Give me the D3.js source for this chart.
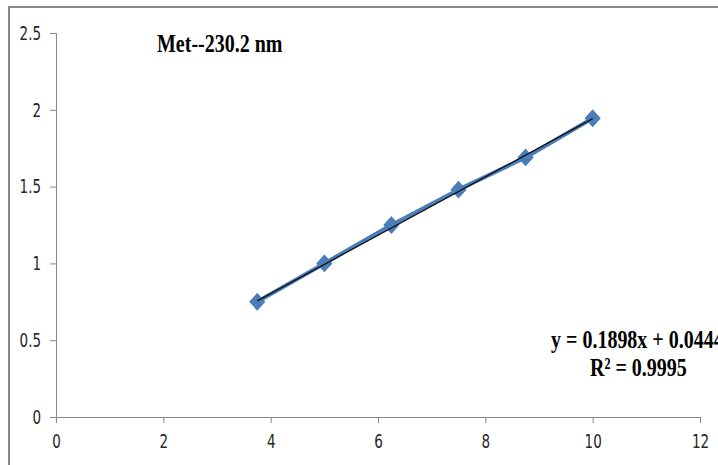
<!DOCTYPE html>
<html>
<head>
<meta charset="utf-8">
<script src="https://cdn.jsdelivr.net/npm/d3@7"></script>
<style>
  html, body { margin: 0; padding: 0; background: #fff; }
  svg { display: block; }
</style>
</head>
<body>
<svg id="chart" width="718" height="465"></svg>
<script>
// Data
const concentrations = [3.75, 5, 6.25, 7.5, 8.75, 10];
const absorbances = [0.75, 1.0, 1.25, 1.48, 1.69, 1.945];
const xTicks = [0, 2, 4, 6, 8, 10, 12];
const yTicks = [0, 0.5, 1, 1.5, 2, 2.5];
const titleText = "Met--230.2 nm";
const slope = 0.1898;
const intercept = 0.0444;
const equationText = "y = 0.1898x + 0.0444";
const r2Text = "R² = 0.9995";

const svg = d3.select("#chart");

// outer chart border (cropped on the right and bottom)
svg.append("rect")
  .attr("x", 9).attr("y", 7)
  .attr("width", 760).attr("height", 520)
  .attr("fill", "#fff")
  .attr("stroke", "#878787")
  .attr("stroke-width", 2);

const x = d3.scaleLinear().domain([0, 12]).range([56, 700]);
const y = d3.scaleLinear().domain([0, 2.5]).range([417, 33]);

const tickFont = "'Liberation Sans Narrow', 'Arial Narrow', 'DejaVu Sans Condensed', sans-serif";
const sy = 1.3;

// y axis
const yAxis = svg.append("g")
  .attr("transform", `translate(${x(0)},0)`)
  .call(d3.axisLeft(y).tickValues(yTicks).tickSize(6).tickPadding(9).tickFormat(d3.format("")));
// x axis
const xAxis = svg.append("g")
  .attr("transform", `translate(0,${y(0)})`)
  .call(d3.axisBottom(x).tickValues(xTicks).tickSize(6).tickPadding(10).tickFormat(d3.format("")));

[yAxis, xAxis].forEach(g => {
  g.select(".domain").attr("stroke", "#868686").attr("stroke-width", 1);
  g.selectAll(".tick line").attr("stroke", "#868686");
  g.selectAll(".tick text")
    .attr("fill", "#262626")
    .style("font-family", tickFont)
    .style("font-size", "15px")
    .attr("transform", `scale(1,${sy})`);
});
// keep x labels at their intended vertical position after stretching
xAxis.selectAll(".tick text").attr("y", 17 / sy);

// series line
const line = d3.line().x(d => x(d[0])).y(d => y(d[1]));
const pts = concentrations.map((c, i) => [c, absorbances[i]]);
svg.append("path")
  .datum(pts)
  .attr("d", line)
  .attr("fill", "none")
  .attr("stroke", "#4a7ebb")
  .attr("stroke-width", 4)
  .attr("stroke-linejoin", "round");

// diamond markers
const diamond = d3.symbol().type(d3.symbolDiamond2).size(140);
svg.append("g").selectAll("path")
  .data(pts)
  .join("path")
  .attr("d", diamond)
  .attr("transform", d => `translate(${x(d[0])},${y(d[1])}) scale(1,1.1)`)
  .attr("fill", "#4a7ebb")
  .attr("stroke", "#4a7ebb")
  .attr("stroke-width", 1);

// linear trendline
const xMin = d3.min(concentrations), xMax = d3.max(concentrations);
svg.append("line")
  .attr("x1", x(xMin)).attr("y1", y(slope * xMin + intercept))
  .attr("x2", x(xMax)).attr("y2", y(slope * xMax + intercept))
  .attr("stroke", "#111")
  .attr("stroke-width", 1.3);

const serif = "'Liberation Serif', 'Times New Roman', serif";

// title
svg.append("text")
  .attr("transform", "translate(157,52) scale(1,1.3)")
  .style("font-family", serif)
  .style("font-weight", "bold")
  .style("font-size", "20px")
  .attr("fill", "#000")
  .text(titleText);

// equation labels
svg.append("text")
  .attr("transform", "translate(551,348) scale(1,1.3)")
  .style("font-family", serif)
  .style("font-weight", "bold")
  .style("font-size", "20px")
  .attr("fill", "#000")
  .text(equationText);
svg.append("text")
  .attr("transform", "translate(590,376) scale(1,1.3)")
  .style("font-family", serif)
  .style("font-weight", "bold")
  .style("font-size", "20px")
  .attr("fill", "#000")
  .text(r2Text);
</script>
</body>
</html>
